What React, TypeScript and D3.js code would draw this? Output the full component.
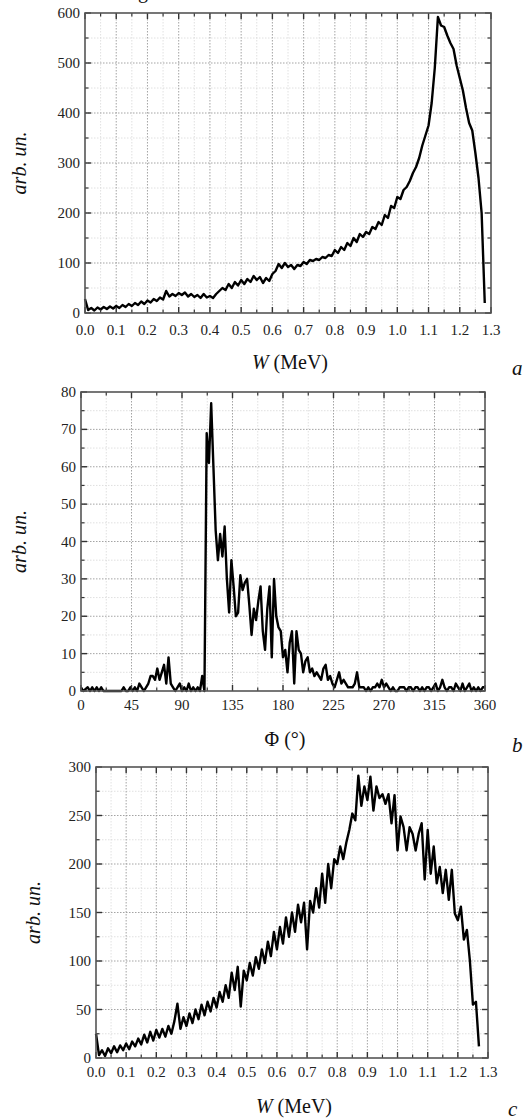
import React from "react";
import * as d3 from "d3";

// ---------- Panel a: energy spectrum W (MeV), step 0.01 ----------
const aStep = 0.01;
const aCounts = [
  28, 6, 10, 5, 11, 7, 12, 8, 13, 9,
  14, 10, 16, 12, 18, 14, 20, 16, 23, 18,
  25, 21, 28, 24, 31, 27, 44, 33, 38, 34,
  40, 36, 41, 33, 38, 32, 36, 30, 38, 31,
  34, 30, 38, 44, 50, 46, 58, 50, 62, 55,
  66, 58, 68, 62, 74, 66, 72, 60, 70, 64,
  78, 84, 98, 90, 100, 92, 96, 88, 96, 94,
  102, 98, 106, 104, 108, 106, 112, 110, 116, 114,
  126, 120, 132, 126, 140, 134, 150, 142, 158, 152,
  162, 158, 172, 168, 182, 176, 196, 190, 214, 210,
  232, 228, 246, 252, 264, 280, 292, 310, 335, 355,
  375, 420, 490, 592, 575, 572, 555, 540, 528, 495,
  470, 445, 410, 380, 365, 320, 270, 200, 20,
];
const aXTicks = [0, 0.1, 0.2, 0.3, 0.4, 0.5, 0.6, 0.7, 0.8, 0.9, 1.0, 1.1, 1.2, 1.3];
const aXTickLabels = ["0.0", "0.1", "0.2", "0.3", "0.4", "0.5", "0.6", "0.7", "0.8", "0.9", "1.0", "1.1", "1.2", "1.3"];
const aYTicks = [0, 100, 200, 300, 400, 500, 600];

// ---------- Panel b: angular distribution Φ (°), step 2 ----------
const bStep = 2;
const bCounts = [
  1, 0, 0.5, 1, 0, 1, 0, 1, 0, 1,
  0, 0, 0, 0, 0, 0, 0, 0, 0, 1,
  0, 0, 1, 0, 1, 0, 2, 1, 0, 1,
  2, 4, 4, 3, 6, 3, 5, 7, 2, 9,
  2, 1, 0, 1, 2, 0, 1, 0, 2, 0,
  1, 0, 1, 0, 4, 0, 69, 61, 77, 60,
  43, 35, 42, 36, 44, 30, 21, 35, 28, 20,
  21, 31, 27, 29, 30, 23, 15, 22, 19, 24,
  28, 16, 11, 22, 28, 9, 30, 20, 17, 16,
  9, 11, 5, 13, 16, 2, 16, 11, 10, 5,
  8, 9, 5, 6, 4, 5, 4, 3, 6, 7,
  3, 4, 2, 1, 3, 5, 2, 3, 2, 1,
  1, 1, 2, 5, 1, 1, 1, 0, 1, 0,
  1, 1, 2, 1, 3, 1, 2, 1, 0, 1,
  0, 0, 1, 1, 1, 0, 1, 1, 0, 1,
  1, 0, 1, 0, 1, 1, 0, 1, 2, 0,
  1, 3, 1, 0, 1, 1, 0, 2, 1, 0,
  2, 0, 1, 2, 0, 1, 0, 1, 0, 1,
  1,
];
const bXTicks = [0, 45, 90, 135, 180, 225, 270, 315, 360];
const bXTickLabels = ["0", "45", "90", "135", "180", "225", "270", "315", "360"];
const bYTicks = [0, 10, 20, 30, 40, 50, 60, 70, 80];

// ---------- Panel c: energy spectrum W (MeV), step 0.01 ----------
const cStep = 0.01;
const cCounts = [
  25, 3, 8, 2, 10, 5, 12, 6, 13, 8,
  15, 9, 17, 12, 20, 14, 24, 16, 27, 18,
  29, 21, 30, 22, 33, 25, 38, 56, 30, 42,
  33, 46, 36, 50, 40, 55, 44, 58, 48, 62,
  52, 68, 58, 75, 62, 88, 70, 94, 53, 90,
  80, 98, 85, 104, 92, 112, 98, 120, 105, 130,
  112, 135, 118, 145, 125, 150, 130, 158, 140, 160,
  112, 162, 150, 175, 155, 190, 160, 200, 175, 205,
  200, 218, 205, 222, 235, 252, 245, 291, 260, 280,
  266, 290, 255, 280, 268, 272, 262, 272, 242, 271,
  214, 249, 238, 214, 238, 231, 214, 231, 242, 184,
  235, 190, 218, 180, 197, 170, 194, 163, 194, 149,
  142, 156, 122, 132, 100, 55, 58, 12,
];
const cXTicks = aXTicks;
const cXTickLabels = aXTickLabels;
const cYTicks = [0, 50, 100, 150, 200, 250, 300];

const SERIF = "Liberation Serif";
const serifStyle = { fontFamily: SERIF };
const serifItalic = { fontFamily: SERIF, fontStyle: "italic" as const };

type PanelProps = {
  box: { x0: number; x1: number; y0: number; y1: number };
  xDomain: [number, number];
  yDomain: [number, number];
  xTicks: number[];
  xTickLabels: string[];
  xMinorStep: number;
  yTicks: number[];
  yMinorStep: number;
  counts: number[];
  step: number;
  xTitle: React.ReactNode;
  xTitleY: number;
  letter: string;
  letterX: number;
  letterY: number;
  yTitleX: number;
  tickLabelY: number;
};

function Panel(p: PanelProps) {
  const x = d3.scaleLinear().domain(p.xDomain).range([p.box.x0, p.box.x1]);
  const y = d3.scaleLinear().domain(p.yDomain).range([p.box.y1, p.box.y0]);
  const xMinor: number[] = [];
  for (let i = 0; i < p.xTicks.length - 1; i++) xMinor.push(p.xTicks[i] + p.xMinorStep);
  const yMinor: number[] = [];
  for (let i = 0; i < p.yTicks.length - 1; i++) yMinor.push(p.yTicks[i] + p.yMinorStep);
  const line = d3
    .line<number>()
    .x((_, i) => x(i * p.step))
    .y((d) => y(d));
  const { x0, x1, y0, y1 } = p.box;
  const majLen = 6;
  const minLen = 3.5;
  const midY = (y0 + y1) / 2;
  return (
    <g>
      {xMinor.map((v, i) => (
        <line key={"xm" + i} x1={x(v)} x2={x(v)} y1={y0} y2={y1} stroke="#d8d8d8" strokeWidth={0.8} strokeDasharray="1.5,1.5" />
      ))}
      {yMinor.map((v, i) => (
        <line key={"ym" + i} x1={x0} x2={x1} y1={y(v)} y2={y(v)} stroke="#d8d8d8" strokeWidth={0.8} strokeDasharray="1.5,1.5" />
      ))}
      {p.xTicks.slice(1, -1).map((v, i) => (
        <line key={"xg" + i} x1={x(v)} x2={x(v)} y1={y0} y2={y1} stroke="#9a9a9a" strokeWidth={0.9} strokeDasharray="1.5,1.5" />
      ))}
      {p.yTicks.slice(1, -1).map((v, i) => (
        <line key={"yg" + i} x1={x0} x2={x1} y1={y(v)} y2={y(v)} stroke="#9a9a9a" strokeWidth={0.9} strokeDasharray="1.5,1.5" />
      ))}
      <path d={line(p.counts) || ""} fill="none" stroke="#000" strokeWidth={2.4} strokeLinejoin="round" />
      {p.xTicks.map((v, i) => (
        <g key={"xt" + i}>
          <line x1={x(v)} x2={x(v)} y1={y1} y2={y1 - majLen} stroke="#333" strokeWidth={1.4} />
          <line x1={x(v)} x2={x(v)} y1={y0} y2={y0 + majLen} stroke="#333" strokeWidth={1.4} />
        </g>
      ))}
      {xMinor.map((v, i) => (
        <g key={"xmt" + i}>
          <line x1={x(v)} x2={x(v)} y1={y1} y2={y1 - minLen} stroke="#333" strokeWidth={1.2} />
          <line x1={x(v)} x2={x(v)} y1={y0} y2={y0 + minLen} stroke="#333" strokeWidth={1.2} />
        </g>
      ))}
      {p.yTicks.map((v, i) => (
        <g key={"yt" + i}>
          <line x1={x0} x2={x0 + majLen} y1={y(v)} y2={y(v)} stroke="#333" strokeWidth={1.4} />
          <line x1={x1} x2={x1 - majLen} y1={y(v)} y2={y(v)} stroke="#333" strokeWidth={1.4} />
        </g>
      ))}
      {yMinor.map((v, i) => (
        <g key={"ymt" + i}>
          <line x1={x0} x2={x0 + minLen} y1={y(v)} y2={y(v)} stroke="#333" strokeWidth={1.2} />
          <line x1={x1} x2={x1 - minLen} y1={y(v)} y2={y(v)} stroke="#333" strokeWidth={1.2} />
        </g>
      ))}
      <rect x={x0} y={y0} width={x1 - x0} height={y1 - y0} fill="none" stroke="#555" strokeWidth={1.6} />
      {p.xTicks.map((v, i) => (
        <text key={"xl" + i} x={x(v)} y={p.tickLabelY} textAnchor="middle" fontFamily={SERIF} style={serifStyle} fontSize={15} fill="#222">
          {p.xTickLabels[i]}
        </text>
      ))}
      {p.yTicks.map((v, i) => (
        <text key={"yl" + i} x={x0 - 5} y={y(v) + 5} textAnchor="end" fontFamily={SERIF} style={serifStyle} fontSize={15} fill="#222">
          {String(v)}
        </text>
      ))}
      <text x={(x0 + x1) / 2 + 2} y={p.xTitleY} textAnchor="middle" fontFamily={SERIF} style={serifStyle} fontSize={20} fill="#111">
        {p.xTitle}
      </text>
      <text
        transform={`translate(${p.yTitleX},${midY}) rotate(-90)`}
        textAnchor="middle"
        fontFamily={SERIF}
        style={serifItalic}
        fontSize={20}
        fill="#111"
      >
        arb. un.
      </text>
      <text x={p.letterX} y={p.letterY} fontFamily={SERIF} style={serifItalic} fontSize={21} fill="#111">
        {p.letter}
      </text>
    </g>
  );
}

export default function App() {
  return (
    <svg
      width={527}
      height={1118}
      viewBox="0 0 527 1118"
      fontFamily={SERIF}
      style={{ position: "absolute", left: 0, top: 0, background: "#fff", display: "block", fontFamily: SERIF }}
    >
      <rect x={0} y={0} width={527} height={1118} fill="#fff" />
      <text x={138} y={-2} fontFamily={SERIF} style={serifStyle} fontSize={20} fill="#111">g</text>
      <Panel
        box={{ x0: 85, x1: 491, y0: 13, y1: 313 }}
        xDomain={[0, 1.3]}
        yDomain={[0, 600]}
        xTicks={aXTicks}
        xTickLabels={aXTickLabels}
        xMinorStep={0.05}
        yTicks={aYTicks}
        yMinorStep={50}
        counts={aCounts}
        step={aStep}
        xTitle={<><tspan style={serifItalic}>W</tspan> (MeV)</>}
        xTitleY={369}
        letter="a"
        letterX={512}
        letterY={375}
        yTitleX={26}
        tickLabelY={335}
      />
      <Panel
        box={{ x0: 81, x1: 485, y0: 392, y1: 691 }}
        xDomain={[0, 360]}
        yDomain={[0, 80]}
        xTicks={bXTicks}
        xTickLabels={bXTickLabels}
        xMinorStep={22.5}
        yTicks={bYTicks}
        yMinorStep={5}
        counts={bCounts}
        step={bStep}
        xTitle={<>Φ (°)</>}
        xTitleY={746}
        letter="b"
        letterX={512}
        letterY={752}
        yTitleX={26}
        tickLabelY={710}
      />
      <Panel
        box={{ x0: 96, x1: 488, y0: 767, y1: 1058 }}
        xDomain={[0, 1.3]}
        yDomain={[0, 300]}
        xTicks={cXTicks}
        xTickLabels={cXTickLabels}
        xMinorStep={0.05}
        yTicks={cYTicks}
        yMinorStep={25}
        counts={cCounts}
        step={cStep}
        xTitle={<><tspan style={serifItalic}>W</tspan> (MeV)</>}
        xTitleY={1113}
        letter="c"
        letterX={508}
        letterY={1116}
        yTitleX={40}
        tickLabelY={1077}
      />
    </svg>
  );
}
